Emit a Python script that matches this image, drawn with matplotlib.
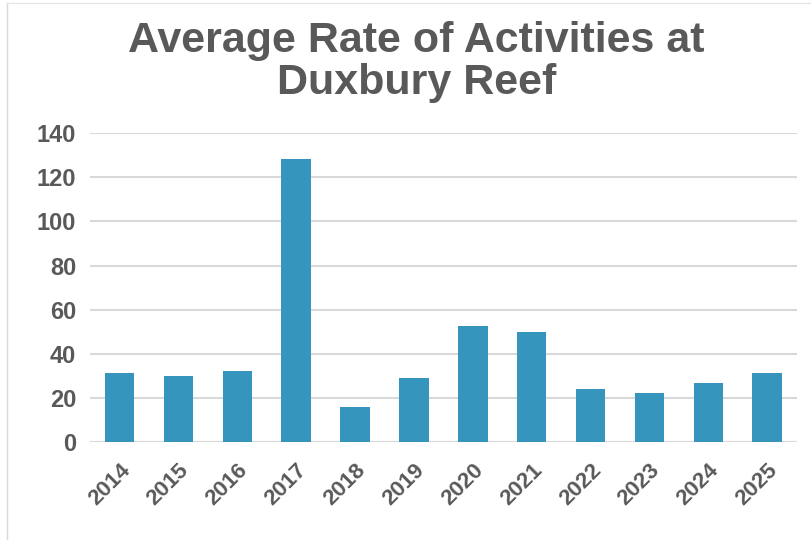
import matplotlib
matplotlib.use('Agg')
from matplotlib import pyplot as plt
import numpy as np

years = ['2014', '2015', '2016', '2017', '2018', '2019',
         '2020', '2021', '2022', '2023', '2024', '2025']
rates = [31.1, 29.8, 32.1, 128.4, 15.6, 29.1, 52.5, 49.7, 24.1, 22.0, 26.5, 31.1]
yticks = [0, 20, 40, 60, 80, 100, 120, 140]

plt.rcParams['font.family'] = ['Liberation Sans', 'DejaVu Sans']
grey = '#595959'

fig = plt.figure(figsize=(8.12, 5.40), dpi=100)
ax = fig.add_axes([0.111, 0.182, 0.870, 0.571])

x = np.arange(len(years))
ax.bar(x, rates, width=0.5, color='#3595bc', zorder=3)

ax.set_xlim(-0.5, len(years) - 0.5)
ax.set_ylim(0, 140)
ax.set_yticks(yticks)
ax.set_xticks(x)
ax.set_xticklabels(years, rotation=45, ha='right', rotation_mode='anchor')
ax.grid(axis='y', color='#d9d9d9', linewidth=1.5, zorder=0)
ax.tick_params(axis='y', length=0, labelsize=17, labelcolor=grey, pad=10)
ax.tick_params(axis='x', length=0, labelsize=16, labelcolor=grey, pad=13)
for lbl in ax.get_xticklabels() + ax.get_yticklabels():
    lbl.set_fontweight('bold')
for s in ax.spines.values():
    s.set_visible(False)
ax.axhline(0, color='#d9d9d9', linewidth=1.5, zorder=1)

fig.text(0.513, 0.885, 'Average Rate of Activities at\nDuxbury Reef', ha='center', va='center',
         fontsize=31, fontweight='bold', color=grey, linespacing=1.05)

# chart border (left and top edges)
fig.add_artist(plt.Line2D([0.009, 0.009], [0.0, 0.995], color='#d9d9d9', linewidth=1))
fig.add_artist(plt.Line2D([0.009, 1.0], [0.995, 0.995], color='#e6e6e6', linewidth=1))

fig.savefig('out.png', dpi=100)
